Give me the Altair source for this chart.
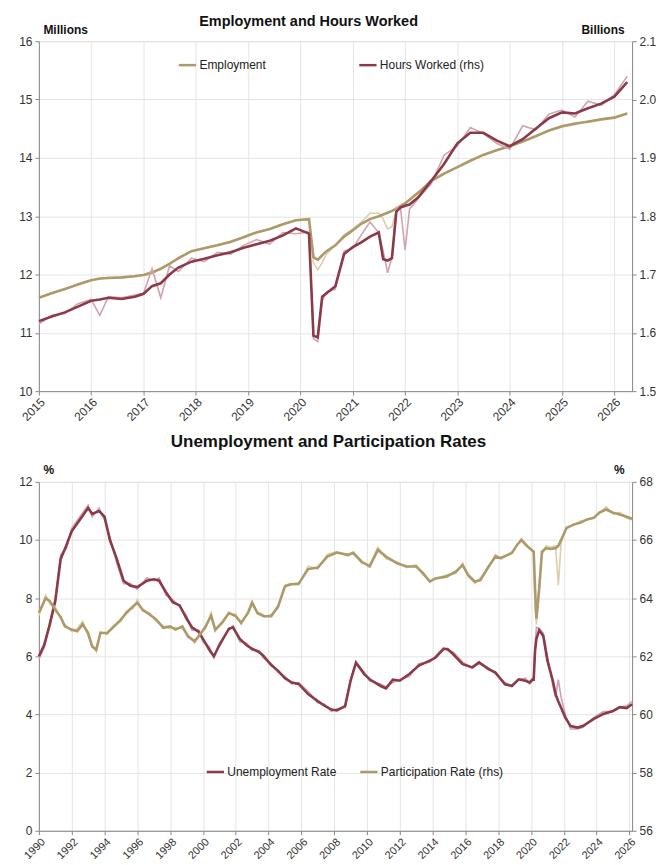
import altair as alt
import pandas as pd

# ---------------- Top panel: Employment and Hours Worked ----------------
TOP_DATES = ["2015-01-01", "2015-04-01", "2015-07-01", "2015-10-01", "2016-01-01", "2016-03-01",
             "2016-05-01", "2016-08-01", "2016-11-01", "2017-01-01", "2017-03-01", "2017-05-01",
             "2017-07-01", "2017-09-01", "2017-12-01", "2018-03-01", "2018-06-01", "2018-09-01",
             "2018-12-01", "2019-03-01", "2019-06-01", "2019-09-01", "2019-12-01", "2020-03-01",
             "2020-04-01", "2020-05-01", "2020-06-01", "2020-07-01", "2020-09-01", "2020-11-01",
             "2021-01-01", "2021-03-01", "2021-05-01", "2021-07-01", "2021-08-01", "2021-09-01",
             "2021-10-01", "2021-11-01", "2021-12-01", "2022-01-01", "2022-02-01", "2022-04-01",
             "2022-07-01", "2022-10-01", "2023-01-01", "2023-04-01", "2023-07-01", "2023-10-01",
             "2024-01-01", "2024-04-01", "2024-07-01", "2024-10-01", "2025-01-01", "2025-04-01",
             "2025-07-01", "2025-10-01", "2026-01-01", "2026-04-01"]
EMP_TREND = [11.60, 11.68, 11.75, 11.83, 11.90, 11.93, 11.94, 11.95, 11.97, 11.99, 12.03, 12.10,
             12.18, 12.28, 12.40, 12.45, 12.50, 12.56, 12.64, 12.72, 12.78, 12.86, 12.93, 12.95,
             12.30, 12.25, 12.33, 12.40, 12.50, 12.65, 12.76, 12.87, 12.95, 13.00, 13.03, 13.06,
             13.09, 13.13, 13.17, 13.22, 13.28, 13.40, 13.60, 13.73, 13.84, 13.95, 14.05, 14.13,
             14.20, 14.28, 14.37, 14.47, 14.54, 14.59, 14.62, 14.66, 14.69, 14.76]
EMP_ORIG = [11.60, 11.69, 11.74, 11.84, 11.91, 11.92, 11.95, 11.94, 11.98, 12.00, 12.06, 12.08,
            12.20, 12.27, 12.40, 12.46, 12.51, 12.55, 12.65, 12.73, 12.78, 12.87, 12.93, 12.95,
            12.20, 12.08, 12.20, 12.35, 12.50, 12.68, 12.78, 12.90, 13.05, 13.05, 12.95, 12.78,
            12.82, 13.10, 13.20, 13.22, 13.28, 13.40, 13.62, 13.74, 13.84, 13.94, 14.06, 14.12,
            14.20, 14.28, 14.38, 14.46, 14.53, 14.57, 14.63, 14.66, 14.70, 14.77]
HRS_TREND = [1.620, 1.628, 1.635, 1.645, 1.655, 1.657, 1.660, 1.658, 1.662, 1.667, 1.680, 1.685,
             1.700, 1.712, 1.722, 1.727, 1.733, 1.738, 1.746, 1.752, 1.758, 1.767, 1.779, 1.770,
             1.595, 1.592, 1.662, 1.668, 1.680, 1.735, 1.747, 1.755, 1.765, 1.772, 1.726, 1.724,
             1.728, 1.808, 1.815, 1.818, 1.820, 1.832, 1.860, 1.890, 1.925, 1.943, 1.943, 1.930,
             1.920, 1.932, 1.950, 1.968, 1.978, 1.976, 1.985, 1.993, 2.005, 2.030]
HRS_ORIG = [1.615, 1.630, 1.633, 1.650, 1.657, 1.630, 1.662, 1.660, 1.665, 1.668, 1.710, 1.660,
            1.715, 1.705, 1.728, 1.722, 1.738, 1.735, 1.750, 1.760, 1.752, 1.772, 1.770, 1.773,
            1.590, 1.585, 1.655, 1.670, 1.675, 1.740, 1.745, 1.768, 1.790, 1.772, 1.740, 1.703,
            1.730, 1.815, 1.812, 1.742, 1.812, 1.830, 1.855, 1.905, 1.920, 1.952, 1.942, 1.925,
            1.915, 1.955, 1.948, 1.975, 1.982, 1.970, 1.997, 1.990, 2.008, 2.040]

# ---------------- Bottom panel: Unemployment and Participation ----------------
U_DATES = ["1990-01-01", "1990-05-01", "1990-09-01", "1991-01-01", "1991-05-01", "1991-09-01",
           "1992-01-01", "1992-07-01", "1993-01-01", "1993-04-01", "1993-09-01", "1994-01-01",
           "1994-05-01", "1994-10-01", "1995-03-01", "1995-08-01", "1996-01-01", "1996-08-01",
           "1997-01-01", "1997-05-01", "1997-10-01", "1998-03-01", "1998-08-01", "1999-01-01",
           "1999-05-01", "1999-10-01", "2000-01-01", "2000-06-01", "2000-09-01", "2001-01-01",
           "2001-08-01", "2001-11-01", "2002-04-01", "2002-09-01", "2003-01-01", "2003-06-01",
           "2003-09-01", "2004-03-01", "2004-08-01", "2005-01-01", "2005-06-01", "2005-11-01",
           "2006-06-01", "2007-01-01", "2007-06-01", "2007-11-01", "2008-03-01", "2008-09-01",
           "2009-01-01", "2009-05-01", "2009-11-01", "2010-03-01", "2010-11-01", "2011-03-01",
           "2011-08-01", "2012-01-01", "2012-08-01", "2013-03-01", "2013-11-01", "2014-03-01",
           "2014-09-01", "2014-12-01", "2015-04-01", "2015-11-01", "2016-06-01", "2016-11-01",
           "2017-06-01", "2017-11-01", "2018-06-01", "2018-11-01", "2019-04-01", "2019-09-01",
           "2019-12-01", "2020-02-01", "2020-03-01", "2020-04-01", "2020-05-01", "2020-07-01",
           "2020-10-01", "2021-01-01", "2021-05-01", "2021-07-01", "2021-09-01", "2021-11-01",
           "2022-02-01", "2022-06-01", "2022-11-01", "2023-03-01", "2023-11-01", "2024-06-01",
           "2025-01-01", "2025-06-01", "2025-11-01", "2026-03-01"]
U_TREND = [6.0, 6.4, 7.1, 7.9, 9.35, 9.8, 10.3, 10.7, 11.1, 10.9, 11.0, 10.8,
           10.0, 9.35, 8.6, 8.43, 8.38, 8.6, 8.65, 8.6, 8.2, 7.86, 7.75, 7.3,
           7.0, 6.84, 6.6, 6.2, 6.0, 6.38, 6.95, 7.0, 6.6, 6.38, 6.26, 6.15,
           6.03, 5.7, 5.5, 5.25, 5.1, 5.05, 4.7, 4.46, 4.3, 4.17, 4.14, 4.29,
           5.16, 5.78, 5.39, 5.21, 4.98, 4.9, 5.2, 5.16, 5.39, 5.68, 5.85, 5.95,
           6.25, 6.25, 6.08, 5.73, 5.62, 5.79, 5.56, 5.44, 5.04, 4.98, 5.21, 5.16,
           5.10, 5.2, 5.2, 6.2, 6.6, 6.9, 6.7, 5.85, 5.16, 4.7, 4.45, 4.23,
           3.9, 3.6, 3.55, 3.6, 3.85, 4.02, 4.12, 4.25, 4.22, 4.35]
U_ORIG = [5.9, 6.3, 7.2, 8.0, 9.5, 9.7, 10.4, 10.8, 11.2, 10.8, 11.1, 10.7,
          10.1, 9.2, 8.5, 8.5, 8.3, 8.7, 8.6, 8.7, 8.1, 7.95, 7.7, 7.4,
          6.9, 6.9, 6.5, 6.3, 5.95, 6.45, 6.9, 7.05, 6.5, 6.45, 6.2, 6.2,
          5.95, 5.75, 5.45, 5.3, 5.05, 5.1, 4.8, 4.4, 4.35, 4.1, 4.2, 4.25,
          5.2, 5.8, 5.45, 5.15, 5.05, 4.95, 5.1, 5.2, 5.3, 5.75, 5.8, 6.0,
          6.3, 6.2, 6.15, 5.8, 5.6, 5.75, 5.6, 5.4, 5.1, 5.0, 5.2, 5.25,
          5.05, 5.15, 5.3, 6.4, 7.0, 6.95, 6.8, 6.0, 5.0, 4.6, 5.2, 4.6,
          4.0, 3.5, 3.5, 3.55, 3.9, 4.1, 4.1, 4.25, 4.3, 4.45]

P_DATES = ["1990-01-01", "1990-06-01", "1990-09-01", "1991-01-01", "1991-05-01", "1991-08-01",
           "1992-01-01", "1992-05-01", "1992-09-01", "1993-01-01", "1993-04-01", "1993-07-01",
           "1993-10-01", "1994-03-01", "1994-07-01", "1995-01-01", "1995-05-01", "1995-10-01",
           "1996-01-01", "1996-05-01", "1996-10-01", "1997-03-01", "1997-08-01", "1998-01-01",
           "1998-05-01", "1998-10-01", "1999-02-01", "1999-07-01", "1999-10-01", "2000-03-01",
           "2000-07-01", "2000-10-01", "2001-03-01", "2001-08-01", "2002-01-01", "2002-05-01",
           "2002-10-01", "2003-01-01", "2003-05-01", "2003-10-01", "2004-03-01", "2004-08-01",
           "2005-01-01", "2005-05-01", "2005-11-01", "2006-06-01", "2007-01-01", "2007-08-01",
           "2008-03-01", "2008-11-01", "2009-03-01", "2009-09-01", "2010-03-01", "2010-09-01",
           "2011-03-01", "2011-11-01", "2012-06-01", "2013-01-01", "2013-06-01", "2013-11-01",
           "2014-03-01", "2014-11-01", "2015-06-01", "2015-11-01", "2016-03-01", "2016-08-01",
           "2016-12-01", "2017-06-01", "2017-11-01", "2018-03-01", "2018-11-01", "2019-03-01",
           "2019-06-01", "2019-09-01", "2019-12-01", "2020-03-01", "2020-04-01", "2020-05-01",
           "2020-07-01", "2020-09-01", "2020-12-01", "2021-03-01", "2021-07-01", "2021-09-01",
           "2021-11-01", "2022-03-01", "2022-08-01", "2023-01-01", "2023-06-01", "2023-11-01",
           "2024-03-01", "2024-08-01", "2025-01-01", "2025-06-01", "2025-11-01", "2026-03-01"]
P_TREND = [63.5, 64.0, 63.9, 63.6, 63.35, 63.03, 62.92, 62.86, 63.1, 62.8, 62.34, 62.23,
           62.8, 62.8, 62.98, 63.26, 63.49, 63.72, 63.84, 63.6, 63.44, 63.26, 62.98, 63.03,
           62.92, 63.03, 62.69, 62.52, 62.69, 63.03, 63.4, 62.92, 63.15, 63.49, 63.38, 63.15,
           63.49, 63.84, 63.49, 63.38, 63.38, 63.72, 64.41, 64.47, 64.5, 65.0, 65.05, 65.43,
           65.57, 65.49, 65.55, 65.26, 65.09, 65.66, 65.43, 65.2, 65.09, 65.09, 64.86, 64.57,
           64.68, 64.74, 64.91, 65.14, 64.8, 64.57, 64.62, 65.09, 65.43, 65.38, 65.55, 65.84,
           66.0, 65.84, 65.72, 65.6, 64.3, 63.3, 64.3, 65.6, 65.72, 65.69, 65.72, 65.8,
           66.0, 66.41, 66.53, 66.59, 66.71, 66.76, 66.94, 67.05, 66.94, 66.88, 66.8, 66.73]
P_ORIG = [63.4, 64.1, 63.8, 63.7, 63.3, 63.1, 62.85, 62.95, 63.2, 62.7, 62.4, 62.15,
          62.85, 62.75, 63.05, 63.2, 63.55, 63.65, 63.95, 63.55, 63.5, 63.2, 63.05, 62.95,
          63.0, 62.95, 62.75, 62.45, 62.75, 62.95, 63.5, 62.85, 63.2, 63.45, 63.45, 63.1,
          63.55, 63.9, 63.45, 63.35, 63.45, 63.65, 64.45, 64.5, 64.45, 65.1, 65.0, 65.5,
          65.6, 65.45, 65.6, 65.2, 65.15, 65.75, 65.35, 65.25, 65.05, 65.15, 64.8, 64.6,
          64.65, 64.8, 64.85, 65.2, 64.75, 64.5, 64.7, 65.05, 65.5, 65.35, 65.6, 65.8,
          66.05, 65.9, 65.7, 65.6, 63.7, 63.1, 64.5, 65.5, 65.8, 65.75, 65.8, 64.45,
          65.9, 66.45, 66.5, 66.65, 66.7, 66.8, 66.9, 67.15, 66.9, 66.95, 66.75, 66.7]

TAN = "#AD9A69"
TAN_LIGHT = "#D9CFAF"
MAROON = "#8B3A4A"
MAROON_LIGHT = "#D0A4AC"
FONT = "Liberation Sans"


def frame(dates, values, name):
    return pd.DataFrame({"date": dates, "value": values, "series": name})


def dual_panel(title, title_size, title_dx, title_offset, xdom, xyears, xlabel_size,
               left, right, names, colors, light_colors, ldom, lticks, lfmt, ltitle,
               rdom, rticks, rfmt, rtitle, legend_x, legend_y, col_pad, height):
    x = alt.X("date:T",
              scale=alt.Scale(type="utc", domain=xdom),
              axis=alt.Axis(values=[alt.DateTime(year=y, month=1, date=1, utc=True) for y in xyears],
                            format="%Y", formatType="utc", labelAngle=-45,
                            labelAlign="right", labelBaseline="top", labelPadding=1,
                            grid=True, gridColor="#E4E4E4", domainColor="#8A8A8A",
                            tickColor="#8A8A8A", tickSize=4, labelFont=FONT,
                            labelFontSize=xlabel_size, labelColor="#333333", title=None))
    yl = alt.Y("value:Q",
               scale=alt.Scale(domain=ldom, nice=False, zero=False),
               axis=alt.Axis(orient="left", values=lticks, format=lfmt, grid=True,
                             gridColor="#E4E4E4", domainColor="#8A8A8A", tickColor="#8A8A8A",
                             tickSize=4, labelFont=FONT, labelFontSize=12, labelColor="#333333",
                             labelPadding=3, title=ltitle, titleAngle=0, titleX=4, titleY=-8,
                             titleAlign="left", titleBaseline="alphabetic", titleFont=FONT,
                             titleFontSize=12, titleFontWeight="bold", titleColor="#111111"))
    yr = alt.Y("value:Q",
               scale=alt.Scale(domain=rdom, nice=False, zero=False),
               axis=alt.Axis(orient="right", values=rticks, format=rfmt, grid=False,
                             domainColor="#8A8A8A", tickColor="#8A8A8A",
                             tickSize=4, labelFont=FONT, labelFontSize=12, labelColor="#333333",
                             labelPadding=3, title=rtitle, titleAngle=0, titleX=-8, titleY=-8,
                             titleAlign="right", titleBaseline="alphabetic", titleFont=FONT,
                             titleFontSize=12, titleFontWeight="bold", titleColor="#111111"))
    color = alt.Color("series:N",
                      scale=alt.Scale(domain=names, range=colors),
                      legend=alt.Legend(title=None, orient="none", legendX=legend_x,
                                        legendY=legend_y, direction="horizontal",
                                        symbolType="stroke", symbolSize=300,
                                        symbolStrokeWidth=2.5, labelFont=FONT,
                                        labelFontSize=12, labelColor="#222222",
                                        labelOffset=2, columnPadding=col_pad, padding=0))
    (ld, lt, lo), (rd, rt, ro) = left, right
    left_light = alt.Chart(frame(ld, lo, names[0] + " (orig)")).mark_line(
        color=light_colors[0], strokeWidth=1.6).encode(x=x, y=yl)
    left_thick = alt.Chart(frame(ld, lt, names[0])).mark_line(strokeWidth=2.6).encode(
        x=x, y=yl, color=color)
    right_light = alt.Chart(frame(rd, ro, names[1] + " (orig)")).mark_line(
        color=light_colors[1], strokeWidth=1.6).encode(x=x, y=yr)
    right_thick = alt.Chart(frame(rd, rt, names[1])).mark_line(strokeWidth=2.6).encode(
        x=x, y=yr, color=color)
    lay = alt.layer(alt.layer(left_light, left_thick), alt.layer(right_light, right_thick))
    return lay.resolve_scale(y="independent").properties(
        width=595, height=height,
        title=alt.TitleParams(title, font=FONT, fontSize=title_size, fontWeight="bold",
                              color="#111111", anchor="middle", offset=title_offset,
                              dx=title_dx))


top = dual_panel(
    "Employment and Hours Worked", 14.5, -27, -6,
    [alt.DateTime(year=2015, month=1, date=1, utc=True), alt.DateTime(year=2026, month=5, date=5, utc=True)],
    list(range(2015, 2027)), 12,
    (TOP_DATES, EMP_TREND, EMP_ORIG), (TOP_DATES, HRS_TREND, HRS_ORIG),
    ["Employment", "Hours Worked (rhs)"], [TAN, MAROON], [TAN_LIGHT, MAROON_LIGHT],
    [10, 16], [10, 11, 12, 13, 14, 15, 16], "d", "Millions",
    [1.5, 2.1], [1.5, 1.6, 1.7, 1.8, 1.9, 2.0, 2.1], ".1f", "Billions",
    139, 14, 88, 351)

bottom = dual_panel(
    "Unemployment and Participation Rates", 17, -7, 13,
    [alt.DateTime(year=1990, month=1, date=1, utc=True), alt.DateTime(year=2026, month=3, date=1, utc=True)],
    list(range(1990, 2027, 2)), 11,
    (U_DATES, U_TREND, U_ORIG), (P_DATES, P_TREND, P_ORIG),
    ["Unemployment Rate", "Participation Rate (rhs)"], [MAROON, TAN], [MAROON_LIGHT, TAN_LIGHT],
    [0, 12], [0, 2, 4, 6, 8, 10, 12], "d", "%",
    [56, 68], [56, 58, 60, 62, 64, 66, 68], "d", "%",
    167, 281, 18, 350)

chart = alt.vconcat(top, bottom, spacing=8).resolve_scale(
    x="independent", color="independent").resolve_legend(color="independent").properties(
    padding={"left": 10, "top": 4, "right": 2, "bottom": 0}
).configure_view(stroke=None).configure(background="white")

chart.save("out.html", embed_options={"renderer": "svg", "actions": False})
